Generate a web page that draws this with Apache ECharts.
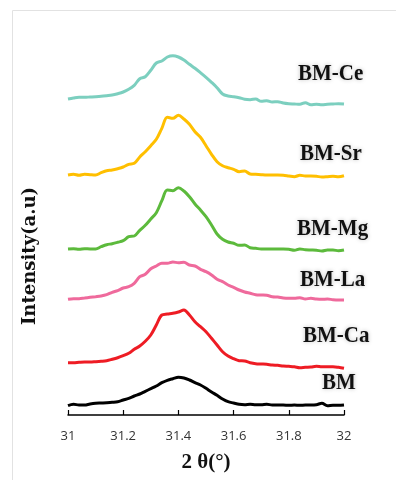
<!DOCTYPE html>
<html>
<head>
<meta charset="utf-8">
<script src="https://cdn.jsdelivr.net/npm/echarts@6/dist/echarts.min.js"></script>
<style>
html,body{margin:0;padding:0;background:#fff;}
#chart{width:396px;height:480px;}
</style>
</head>
<body>
<div id="chart"></div>
<script>
const twoTheta = [31.00,31.02,31.04,31.06,31.08,31.10,31.12,31.14,31.16,31.18,31.20,31.22,31.24,31.26,31.28,31.30,31.32,31.34,31.36,31.38,31.40,31.42,31.44,31.46,31.48,31.50,31.52,31.54,31.56,31.58,31.60,31.62,31.64,31.66,31.68,31.70,31.72,31.74,31.76,31.78,31.80,31.82,31.84,31.86,31.88,31.90,31.92,31.94,31.96,31.98,32.00];
const xTicks = [31, 31.2, 31.4, 31.6, 31.8, 32];
const seriesNames = ['BM-Ce','BM-Sr','BM-Mg','BM-La','BM-Ca','BM'];

const BM_Ce = [316.0,317.0,317.7,317.7,318.0,318.3,318.7,319.3,320.0,321.3,323.0,325.7,329.7,336.3,338.3,344.7,352.0,354.0,358.0,359.3,358.0,355.0,350.7,346.7,342.3,337.7,332.7,327.3,321.0,319.0,318.3,317.3,315.7,315.3,316.0,313.7,314.3,313.0,313.3,312.0,311.3,311.0,310.7,312.3,310.3,310.7,310.3,310.7,311.0,311.3,311.0];
const BM_Sr = [240.0,240.7,239.7,240.7,240.3,240.0,242.3,244.3,245.0,246.3,248.0,250.7,251.7,258.0,263.3,269.3,275.7,286.7,297.7,296.7,299.7,296.0,290.7,283.3,277.7,269.3,260.7,253.3,249.3,247.3,245.7,243.3,244.0,241.0,240.7,240.3,240.0,240.0,240.0,239.7,239.0,238.3,239.7,239.0,239.0,238.7,238.0,238.3,238.7,238.3,239.3];
const BM_Mg = [166.0,166.3,165.7,166.3,166.0,166.0,168.3,170.3,171.3,172.7,174.3,178.3,179.0,184.7,189.7,196.0,202.3,214.3,225.0,224.3,227.3,224.0,218.3,211.0,205.0,198.3,190.0,181.0,175.7,173.0,171.7,169.7,170.0,167.3,166.7,166.0,166.0,166.0,166.0,166.0,165.7,164.7,166.0,165.3,165.0,164.7,164.0,165.0,165.0,164.3,165.0];
const BM_La = [115.7,116.3,116.3,117.0,117.7,118.3,119.0,120.3,122.7,124.3,127.0,128.3,131.7,138.3,140.7,146.3,149.0,151.7,151.7,153.0,152.3,152.7,150.0,149.0,145.7,143.3,140.0,135.7,133.3,130.0,127.7,125.0,123.0,121.7,120.3,120.0,119.7,118.3,118.0,117.0,116.7,116.7,117.3,116.0,116.7,116.0,115.7,116.0,115.3,115.0,115.0];
const BM_Ca = [52.3,52.3,52.7,53.0,53.0,53.3,53.7,54.3,55.7,57.3,59.3,61.7,65.7,69.0,73.7,80.0,90.0,100.0,101.0,101.7,103.0,105.0,100.0,93.3,88.3,83.3,76.7,70.0,63.3,59.0,56.3,54.3,54.0,52.3,51.3,51.0,50.7,50.0,49.7,49.0,48.7,48.3,47.3,47.7,48.0,48.7,48.3,48.3,48.3,47.7,46.7];
const BM_base = [9.3,10.7,10.0,10.0,11.0,11.7,12.0,12.3,12.7,13.3,15.0,16.7,19.0,21.0,23.7,26.3,29.0,32.3,34.7,36.3,37.7,37.0,35.0,32.3,30.0,26.7,23.0,19.7,16.0,13.3,12.0,10.7,10.3,10.7,10.3,10.3,10.7,10.0,10.0,10.0,9.7,10.0,9.7,10.0,10.0,10.3,11.7,9.3,9.7,9.7,10.0];

const seriesValues = [BM_Ce, BM_Sr, BM_Mg, BM_La, BM_Ca, BM_base];
const colors = ['#7ccfbf','#ffbf00','#5cba3c','#ef6a9c','#ee1c24','#000000'];
const labelPos = [[298,74],[300,154],[297,229],[300,280],[303,336],[322,383]];

const chart = echarts.init(document.getElementById('chart'), null, {renderer:'canvas'});

const series = seriesNames.map((n,i)=>({
  name:n, type:'line', showSymbol:false, smooth:0.35,
  data: twoTheta.map((x,j)=>[x, seriesValues[i][j]]),
  lineStyle:{color:colors[i], width:3},
  itemStyle:{color:colors[i]},
  animation:false
}));

const graphics = [
  {type:'line', shape:{x1:12.5,y1:10.5,x2:396,y2:10.5}, style:{stroke:'#e2e2e2', lineWidth:1}},
  {type:'line', shape:{x1:12.5,y1:10.5,x2:12.5,y2:480}, style:{stroke:'#e2e2e2', lineWidth:1}},
  {type:'text', x:30, y:256, rotation:Math.PI/2, style:{text:'Intensity(a.u)', font:'bold 18px "DejaVu Serif"', fill:'#111', align:'center', verticalAlign:'middle'}}
];
seriesNames.forEach((n,i)=>{
  graphics.push({type:'text', x:labelPos[i][0], y:labelPos[i][1], scaleY:1.12, style:{text:n, font:'bold 21px "Liberation Serif"', fill:'#111', align:'left', verticalAlign:'middle', textShadowColor:'rgba(0,0,0,0.25)', textShadowBlur:4}});
});

chart.setOption({
  animation:false,
  backgroundColor:'#fff',
  grid:{left:68, right:52, top:15, bottom:65},
  xAxis:{
    type:'value', min:31, max:32, interval:0.2,
    axisLine:{lineStyle:{color:'#000', width:1.5}},
    axisTick:{show:true, inside:true, length:5, lineStyle:{color:'#000', width:1.2}},
    splitLine:{show:false},
    axisLabel:{color:'#333', fontSize:13, fontFamily:'"Open Sans"', margin:15, formatter:(v)=>String(Math.round(v*10)/10)},
    name:'2 θ(°)', nameLocation:'middle', nameGap:37,
    nameTextStyle:{color:'#111', fontSize:21, fontWeight:'bold', fontFamily:'"Liberation Serif"'}
  },
  yAxis:{type:'value', min:0, max:400, show:false},
  series: series,
  graphic: graphics
});
</script>
</body>
</html>
